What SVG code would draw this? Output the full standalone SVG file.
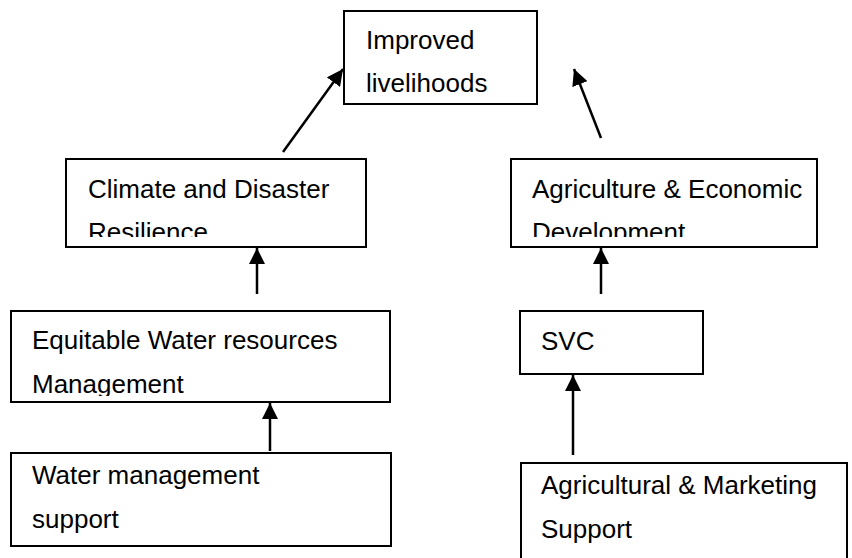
<svg xmlns="http://www.w3.org/2000/svg" width="852" height="558" viewBox="0 0 852 558">
<style>
.box{fill:#fff;stroke:#000;stroke-width:2}
.t{font-family:"Liberation Sans",Arial,sans-serif;font-size:26px;fill:#000}
.c{stroke:#000;stroke-width:2.5;fill:none}
</style>
<defs>
<marker id="ah" viewBox="0 0 10 10" refX="10" refY="5" markerWidth="6.5" markerHeight="6.5" markerUnits="strokeWidth" orient="auto">
<path d="M0,0 L10,5 L0,10 z" fill="#000"/>
</marker>
<clipPath id="cp1"><rect x="66" y="159" width="300" height="78"/></clipPath>
<clipPath id="cp2"><rect x="511" y="159" width="306" height="78"/></clipPath>
<clipPath id="cp3"><rect x="11" y="311" width="379" height="85"/></clipPath>
</defs>
<rect width="852" height="558" fill="#fff"/>
<g id="n-improved">
<rect class="box" x="344" y="11" width="193" height="93"/>
<text class="t" x="366" y="49">Improved</text>
<text class="t" x="366" y="92">livelihoods</text>
</g>
<g id="n-climate">
<rect class="box" x="66" y="159" width="300" height="88"/>
<g clip-path="url(#cp1)">
<text class="t" x="88" y="198">Climate and Disaster</text>
<text class="t" x="88" y="241">Resilience</text>
</g>
</g>
<g id="n-agri-econ">
<rect class="box" x="511" y="159" width="306" height="88"/>
<g clip-path="url(#cp2)">
<text class="t" x="532" y="198">Agriculture &amp; Economic</text>
<text class="t" x="532" y="241">Development</text>
</g>
</g>
<g id="n-equitable">
<rect class="box" x="11" y="311" width="379" height="91"/>
<g clip-path="url(#cp3)">
<text class="t" x="32" y="349">Equitable Water resources</text>
<text class="t" x="32" y="393">Management</text>
</g>
</g>
<g id="n-svc">
<rect class="box" x="520" y="311" width="183" height="63"/>
<text class="t" x="541" y="350">SVC</text>
</g>
<g id="n-water-support">
<rect class="box" x="11" y="453" width="380" height="93"/>
<text class="t" x="32" y="484">Water management</text>
<text class="t" x="32" y="528">support</text>
</g>
<g id="n-agri-marketing">
<rect class="box" x="521" y="463" width="326" height="100"/>
<text class="t" x="541" y="494">Agricultural &amp; Marketing</text>
<text class="t" x="541" y="538">Support</text>
</g>
<g id="connectors">
<line class="c" x1="283" y1="152" x2="343" y2="69" marker-end="url(#ah)"/>
<line class="c" x1="601" y1="138" x2="574" y2="69" marker-end="url(#ah)"/>
<line class="c" x1="257" y1="294" x2="257" y2="248" marker-end="url(#ah)"/>
<line class="c" x1="601" y1="294" x2="601" y2="248" marker-end="url(#ah)"/>
<line class="c" x1="270" y1="451" x2="270" y2="403" marker-end="url(#ah)"/>
<line class="c" x1="573" y1="455" x2="573" y2="375" marker-end="url(#ah)"/>
</g>
</svg>
